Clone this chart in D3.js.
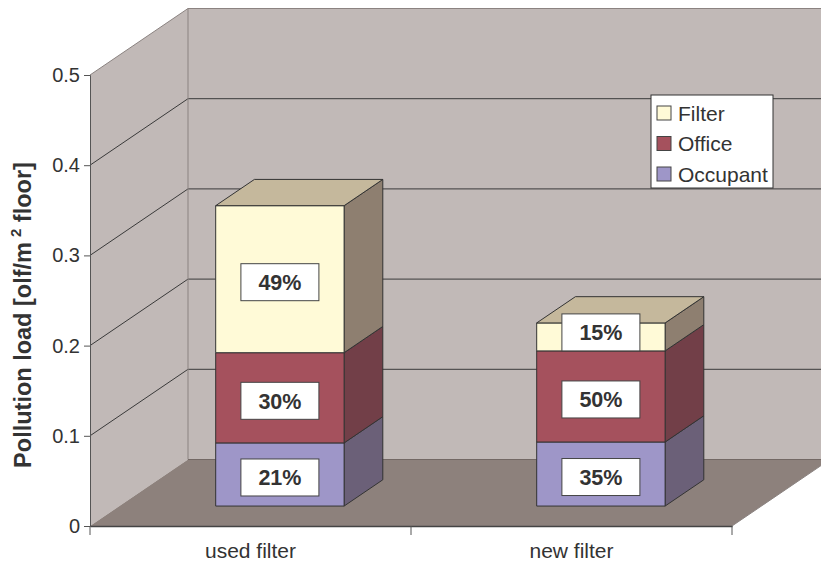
<!DOCTYPE html>
<html>
<head>
<meta charset="utf-8">
<script src="https://cdn.jsdelivr.net/npm/d3@7"></script>
<style>
  html, body { margin: 0; padding: 0; background: #ffffff; }
  svg { display: block; font-family: Arial, "Liberation Sans", sans-serif; }
</style>
</head>
<body>
<svg id="chart" width="821" height="563"></svg>
<script>
// Pollution load per source, stacked per filter condition
const categories = ["used filter", "new filter"];
const seriesNames = ["Occupant", "Office", "Filter"];
const occupantValues = [0.070, 0.071];
const officeValues = [0.100, 0.101];
const filterValues = [0.163, 0.031];
const yTickValues = [0, 0.1, 0.2, 0.3, 0.4, 0.5];
const yTickLabels = ["0", "0.1", "0.2", "0.3", "0.4", "0.5"];
const legendOrder = ["Filter", "Office", "Occupant"];

const seriesValues = [occupantValues, officeValues, filterValues];

// face colours per series: front, side, top
const palette = {
  Occupant: { front: "#9e96c8", side: "#6b6078", top: "#b8b0d8" },
  Office:   { front: "#a5515d", side: "#723f48", top: "#8a4450" },
  Filter:   { front: "#fffad7", side: "#8e7f70", top: "#c5b89c" }
};

const svg = d3.select("#chart");

// plot frame (front plane) and 3-D depth offset
const plotLeft = 90, plotRight = 732, plotBottom = 526, plotTop = 75;
const DX = 98, DY = -66.5;
const zFront = 0.30, zBack = 0.695;

const y = d3.scaleLinear().domain([0, 0.5]).range([plotBottom, plotTop]);
const x = d3.scaleBand().domain(categories).range([plotLeft, plotRight]).padding(0);
const barW = x.bandwidth() * 0.40;

// project (screen x on front plane, value, depth 0..1)
const P = (px, v, z) => [px + z * DX, y(v) + z * DY];
const poly = pts => pts.map(p => p.join(",")).join(" ");

const wallFill = "#c1b9b7", floorFill = "#8d817c", edge = "#8b8381", grid = "#3a3a3a";
const farX = 900;

// left wall
svg.append("polygon")
  .attr("points", poly([P(plotLeft, 0, 0), P(plotLeft, 0.5, 0), P(plotLeft, 0.5, 1), P(plotLeft, 0, 1)]))
  .attr("fill", wallFill);
// back wall
svg.append("polygon")
  .attr("points", poly([P(plotLeft, 0, 1), P(plotLeft, 0.5, 1), [farX, y(0.5) + DY], [farX, y(0) + DY]]))
  .attr("fill", wallFill);

// gridlines on both walls
yTickValues.filter(v => v > 0).forEach(v => {
  const c = v === 0.5 ? edge : grid;
  const a = P(plotLeft, v, 0), b = P(plotLeft, v, 1);
  svg.append("line").attr("x1", a[0]).attr("y1", a[1]).attr("x2", b[0]).attr("y2", b[1])
    .attr("stroke", c).attr("stroke-width", 1);
  svg.append("line").attr("x1", b[0]).attr("y1", b[1]).attr("x2", farX).attr("y2", b[1])
    .attr("stroke", c).attr("stroke-width", 1);
});
// wall corner edge
{
  const a = P(plotLeft, 0, 1), b = P(plotLeft, 0.5, 1);
  svg.append("line").attr("x1", a[0]).attr("y1", a[1]).attr("x2", b[0]).attr("y2", b[1])
    .attr("stroke", edge).attr("stroke-width", 1);
}

// floor
{
  const fl = P(plotLeft, 0, 0), bl = P(plotLeft, 0, 1), fr = P(plotRight, 0, 0), br = P(plotRight, 0, 1);
  svg.append("polygon")
    .attr("points", poly([fl, bl, [farX, bl[1]], br, fr]))
    .attr("fill", floorFill);
  svg.append("line").attr("x1", bl[0]).attr("y1", bl[1]).attr("x2", farX).attr("y2", bl[1])
    .attr("stroke", "#736864").attr("stroke-width", 1);
  svg.append("line").attr("x1", fr[0]).attr("y1", fr[1]).attr("x2", br[0]).attr("y2", br[1])
    .attr("stroke", edge).attr("stroke-width", 1);
}

// y axis
const yAxis = svg.append("g").attr("transform", `translate(${plotLeft},0)`)
  .call(d3.axisLeft(y).tickValues(yTickValues).tickFormat((d, i) => yTickLabels[i])
    .tickSize(6).tickPadding(4));
yAxis.select(".domain").attr("stroke", "#555");
yAxis.selectAll(".tick line").attr("stroke", "#555");
yAxis.selectAll(".tick text").attr("fill", "#333").style("font-size", "20px")
  .style("font-family", "Arial, 'Liberation Sans', sans-serif");

// x axis: labels at band centres, ticks at band boundaries
const xAxis = svg.append("g").attr("transform", `translate(0,${plotBottom})`)
  .call(d3.axisBottom(x).tickSize(0).tickPadding(0));
xAxis.select(".domain").attr("stroke", "#444").attr("stroke-width", 1.5);
xAxis.selectAll(".tick text").attr("fill", "#333").attr("y", 32).attr("dy", 0)
  .style("font-size", "21px").style("font-family", "Arial, 'Liberation Sans', sans-serif");
const boundaries = [plotLeft].concat(categories.map(c => x(c) + x.bandwidth()));
xAxis.selectAll(".bound").data(boundaries).join("line").attr("class", "bound")
  .attr("x1", d => d).attr("x2", d => d).attr("y1", 0).attr("y2", 9)
  .attr("stroke", "#555");

// stacked 3-D bars
const stack = categories.map((c, ci) => {
  let acc = 0;
  const total = seriesValues.reduce((s, arr) => s + arr[ci], 0);
  return seriesNames.map((name, si) => {
    const v = seriesValues[si][ci];
    const seg = { cat: c, name, y0: acc, y1: acc + v, pct: Math.round(v / total * 100) };
    acc += v;
    return seg;
  });
});

const barsG = svg.append("g");
stack.forEach(segs => {
  segs.forEach((s, i) => {
    const x0 = x(s.cat) + (x.bandwidth() - barW) / 2, x1 = x0 + barW;
    const col = palette[s.name];
    const g = barsG.append("g");
    // side face
    g.append("polygon")
      .attr("points", poly([P(x1, s.y0, zFront), P(x1, s.y0, zBack), P(x1, s.y1, zBack), P(x1, s.y1, zFront)]))
      .attr("fill", col.side).attr("stroke", "#333").attr("stroke-width", 1).attr("stroke-linejoin", "round");
    // front face
    g.append("polygon")
      .attr("points", poly([P(x0, s.y0, zFront), P(x1, s.y0, zFront), P(x1, s.y1, zFront), P(x0, s.y1, zFront)]))
      .attr("fill", col.front).attr("stroke", "#333").attr("stroke-width", 1).attr("stroke-linejoin", "round");
    if (i === segs.length - 1) {
      g.append("polygon")
        .attr("points", poly([P(x0, s.y1, zFront), P(x1, s.y1, zFront), P(x1, s.y1, zBack), P(x0, s.y1, zBack)]))
        .attr("fill", col.top).attr("stroke", "#333").attr("stroke-width", 1).attr("stroke-linejoin", "round");
    }
  });
});

// percentage labels on each segment
const boxW = 78, boxH = 37;
stack.forEach(segs => {
  segs.forEach(s => {
    const x0 = x(s.cat) + (x.bandwidth() - barW) / 2;
    const cx = P(x0 + barW / 2, 0, zFront)[0];
    const yTopSeg = P(0, s.y1, zFront)[1], yBotSeg = P(0, s.y0, zFront)[1];
    let cy = (yTopSeg + yBotSeg) / 2 + 3;
    if (cy + boxH / 2 > yBotSeg) cy = yBotSeg - boxH / 2;
    svg.append("rect").attr("x", cx - boxW / 2).attr("y", cy - boxH / 2)
      .attr("width", boxW).attr("height", boxH)
      .attr("fill", "#ffffff").attr("stroke", "#444").attr("stroke-width", 1);
    svg.append("text").attr("x", cx).attr("y", cy).attr("dy", "0.36em")
      .attr("text-anchor", "middle").attr("fill", "#333")
      .style("font-size", "21.5px").style("font-weight", "bold")
      .text(s.pct + "%");
  });
});

// legend
const lg = svg.append("g").attr("transform", "translate(651,95)");
lg.append("rect").attr("width", 122).attr("height", 93)
  .attr("fill", "#ffffff").attr("stroke", "#333").attr("stroke-width", 1);
legendOrder.forEach((name, i) => {
  const cy = 18 + i * 30.5;
  lg.append("rect").attr("x", 6).attr("y", cy - 7).attr("width", 14).attr("height", 14)
    .attr("fill", palette[name].front).attr("stroke", "#444").attr("stroke-width", 1);
  lg.append("text").attr("x", 27).attr("y", cy).attr("dy", "0.36em")
    .attr("fill", "#333").style("font-size", "21px").text(name);
});

// y axis title
const title = svg.append("text")
  .attr("transform", "translate(31,315) rotate(-90)")
  .attr("text-anchor", "middle").attr("fill", "#333")
  .style("font-size", "23.5px").style("font-weight", "bold");
title.append("tspan").text("Pollution load [olf/m");
title.append("tspan").attr("dx", 5).attr("dy", -10).style("font-size", "15px").text("2");
title.append("tspan").attr("dy", 10).text(" floor]");
</script>
</body>
</html>
